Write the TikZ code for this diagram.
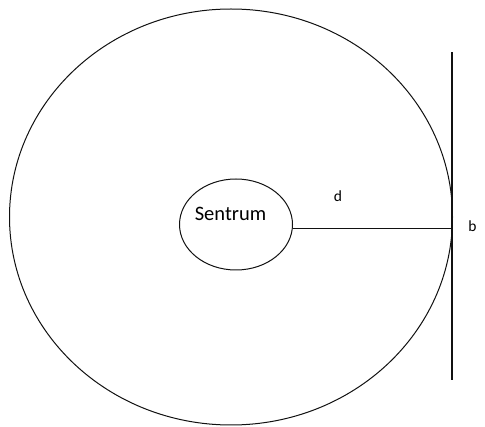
\documentclass[tikz,border=0pt]{standalone}
\usepackage{fontspec}
\setmainfont{Carlito}
\usetikzlibrary{shapes.geometric,calc}
\definecolor{inkblack}{HTML}{111111}
\tikzset{
  orbit/.style={ellipse, draw=inkblack, line width=1pt, inner sep=0pt},
  plainline/.style={draw=inkblack, line width=1.1pt},
  biglabel/.style={font=\fontsize{20.5}{24}\selectfont, inner sep=0pt, anchor=base},
  smalllabel/.style={font=\fontsize{15.5}{18}\selectfont, inner sep=0pt, anchor=base}
}

\begin{document}
\begin{tikzpicture}[x=1pt,y=-1pt]
\useasboundingbox (0,0) rectangle (485,427);
% outer circle and the centre
\node[orbit, minimum width=443pt, minimum height=416pt] (outer) at (231,217) {};
\node[orbit, minimum width=113pt, minimum height=91pt] (sentrum) at (236,224.5) {};
\node[biglabel] (sentrumtxt) at (230.5,221) {Sentrum};
% the tangent line
\coordinate (walltop) at (452,52.5);
\coordinate (wallbot) at (452,380);
\draw[plainline] (walltop) -- (wallbot);
\draw[plainline] (sentrum.-4) -- (sentrum.-4 -| walltop);
\node[smalllabel] (dlabel) at (338,201.5) {d};
\node[smalllabel] (blabel) at (472.5,232) {b};
\end{tikzpicture}
\end{document}
